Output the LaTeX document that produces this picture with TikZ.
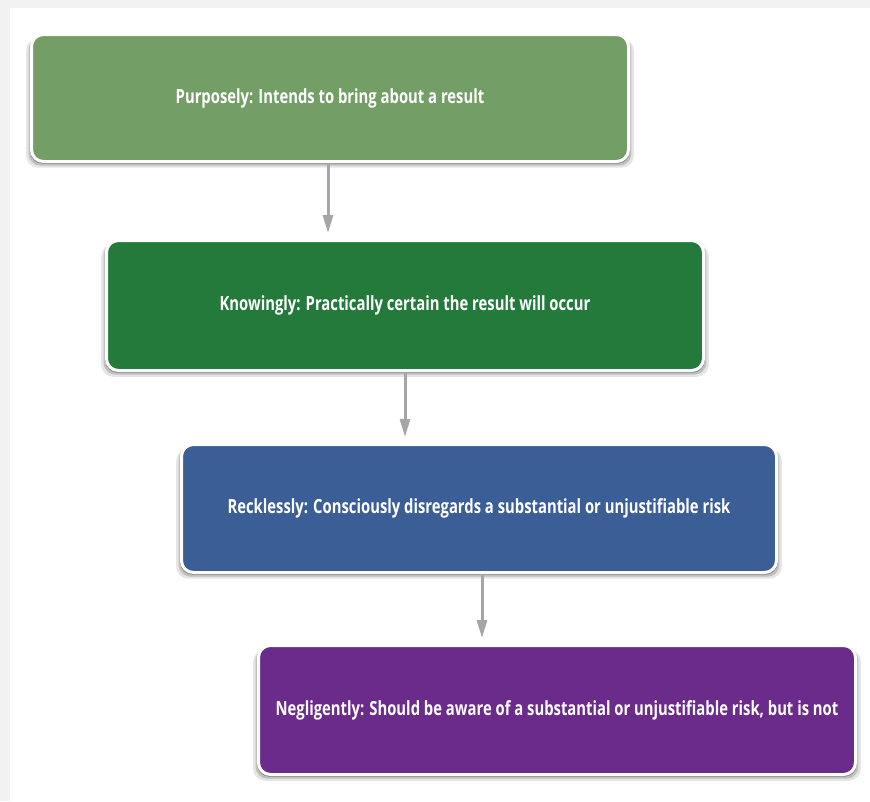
\documentclass[tikz,border=0pt]{standalone}
\usepackage{fontspec}
\setmainfont{Open Sans}
\usetikzlibrary{arrows.meta,shadows}
\definecolor{cPurp}{HTML}{739F66}
\definecolor{cKnow}{HTML}{237A3B}
\definecolor{cReck}{HTML}{3B5E97}
\definecolor{cNeg}{HTML}{6B2B8B}
\definecolor{cArr}{HTML}{A6A6A6}
\newcommand{\lbl}[1]{\scalebox{0.76}[1]{\bfseries\fontsize{19.5pt}{22pt}\selectfont #1}}
\begin{document}
\begin{tikzpicture}[x=1pt,y=-1pt,
  levelbox/.style={draw=white, line width=3pt, rounded corners=12pt, text=white,
    minimum width=597pt, minimum height=128pt, inner sep=0pt,
    drop shadow={shadow xshift=0pt, shadow yshift=-5pt, shadow scale=1.018, opacity=0.10, fill=black},
    drop shadow={shadow xshift=0pt, shadow yshift=-3.5pt, shadow scale=1.01, opacity=0.16, fill=black},
    drop shadow={shadow xshift=0pt, shadow yshift=-2pt, shadow scale=1.004, opacity=0.25, fill=black}},
  conn/.style={draw=cArr, line width=3pt, -{Triangle[width=10pt,length=18pt]}, shorten >=6pt}]
\useasboundingbox (0,0) rectangle (870,801);
\fill[black!5] (0,0) rectangle (870,801);
\fill[white] (10,8) rectangle (870,801);
\node[levelbox, fill=cPurp, minimum height=127pt] (b1) at (330,98) {\lbl{Purposely: Intends to bring about a result}};
\node[levelbox, fill=cKnow, minimum height=130pt] (b2) at (405,305.5) {\lbl{Knowingly: Practically certain the result will occur}};
\node[levelbox, fill=cReck, minimum width=595pt] (b3) at (479,508.5) {\lbl{Recklessly: Consciously disregards a substantial or unjustifiable risk}};
\node[levelbox, fill=cNeg, minimum height=129pt] (b4) at (557,710) {\lbl{Negligently: Should be aware of a substantial or unjustifiable risk, but is not}};
\draw[conn] ([xshift=-2pt]b1.south) -- ([xshift=-2pt]b1.south |- b2.north);
\draw[conn] (b2.south) -- (b2.south |- b3.north);
\draw[conn] ([xshift=3pt]b3.south) -- ([xshift=3pt]b3.south |- b4.north);
\end{tikzpicture}
\end{document}
